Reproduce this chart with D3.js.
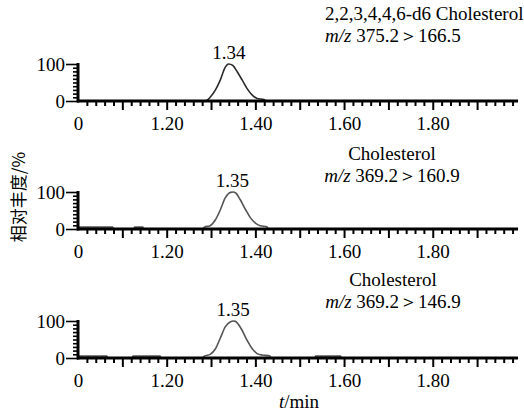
<!DOCTYPE html>
<html><head><meta charset="utf-8">
<script src="https://cdn.jsdelivr.net/npm/d3@7/dist/d3.min.js"></script>
<style>body{margin:0;background:#fff}</style>
</head><body>
<svg id="c" width="524" height="412"></svg>
<script>
// ---- data ----
const xTickValues = [1.0, 1.2, 1.4, 1.6, 1.8];
const xTickLabels = ["0", "1.20", "1.40", "1.60", "1.80"];
const yTickValues = [0, 100];
const peakTimes = [1.340, 1.348, 1.350];
const peakLabels = ["1.34", "1.35", "1.35"];
const compoundNames = ["2,2,3,4,4,6-d6 Cholesterol", "Cholesterol", "Cholesterol"];
const transitions = ["375.2＞166.5", "369.2＞160.9", "369.2＞146.9"];

const times1 = [1.00,1.285,1.291,1.298,1.310,1.321,1.331,1.340,1.349,1.359,1.370,1.381,1.393,1.404,1.419,1.425,1.99];
const int1   = [0,   0,    2,    10,   30,   57,   89,   100,  96,   79,   57,   34,   16,   7,    4,    0,    0];

const times2 = [1.00,1.078,1.080,1.126,1.128,1.146,1.148,1.280,1.285,1.298,1.310,1.321,1.332,1.344,1.350,1.355,1.366,1.378,1.389,1.400,1.411,1.426,1.430,1.99];
const int2   = [5,   5,    0,    0,    5,    5,    0,    0,    5,    9,    25,   52,   84,   99,   100,  98,   79,   52,   30,   16,   9,    6,    0,    0];

const times3 = [1.00,1.065,1.067,1.122,1.124,1.185,1.187,1.280,1.285,1.298,1.310,1.321,1.332,1.344,1.350,1.355,1.359,1.370,1.381,1.393,1.404,1.415,1.432,1.436,1.534,1.536,1.592,1.594,1.99];
const int3   = [5,   5,    0,    0,    5,    5,    0,    0,    5,    10,   25,   54,   84,   98,   100,  99,   95,   75,   48,   25,   12,   8,    6,    0,    0,    5,    5,    0,    0];

const seriesTimes = [times1, times2, times3];
const seriesInts = [int1, int2, int3];

// ---- layout ----
const FONT = "'Liberation Serif'";
const FS = 19;
const svg = d3.select("#c");
const x = d3.scaleLinear().domain([1.0, 1.99]).range([78, 517]);
const bases = [101, 229, 358];
const plotH = 37;
const lineColors = ["#2a2a2a", "#555", "#555"];
const nameLayout = [
  {anchor: "start", x: 325, y1: 20, y2: 42},
  {anchor: "middle", x: 392, y1: 160, y2: 182},
  {anchor: "middle", x: 393, y1: 286, y2: 308}
];

const majorX = d3.range(1.1, 1.95, 0.1);
const minorX = d3.range(1.02, 1.99, 0.02).filter(v => Math.abs(v*10 - Math.round(v*10)) > 1e-6);

bases.forEach((b, i) => {
  const y = d3.scaleLinear().domain([0, 100]).range([b, b - plotH]);
  const g = svg.append("g");

  const pts = seriesTimes[i].map((t, k) => [t, seriesInts[i][k]]);
  g.append("path")
    .datum(pts)
    .attr("fill", "none")
    .attr("stroke", lineColors[i])
    .attr("stroke-width", 1.6)
    .attr("d", d3.line().x(d => x(d[0])).y(d => y(d[1])).curve(d3.curveMonotoneX));

  const ax1 = g.append("g").attr("transform", `translate(0,${b})`)
    .call(d3.axisBottom(x).tickValues(minorX).tickSize(5).tickFormat(""));
  const ax2 = g.append("g").attr("transform", `translate(0,${b})`)
    .call(d3.axisBottom(x).tickValues(majorX).tickSize(9).tickFormat(""));
  const ax3 = g.append("g").attr("transform", `translate(0,${b})`)
    .call(d3.axisBottom(x).tickValues(xTickValues).tickSize(0).tickPadding(16)
      .tickFormat((d, k) => xTickLabels[k]));
  [ax1, ax2, ax3].forEach(a => {
    a.attr("font-family", null).attr("font-size", null);
    a.select(".domain").remove();
    a.selectAll("line").attr("stroke", "#000").attr("stroke-width", 2);
    a.selectAll("text").style("font-family", FONT).style("font-size", FS + "px").attr("fill", "#000");
  });
  g.append("line").attr("x1", x(1.0) - 1).attr("x2", 518).attr("y1", b).attr("y2", b)
    .attr("stroke", "#000").attr("stroke-width", 3);

  const ay1 = g.append("g").attr("transform", `translate(${x(1.0)},0)`)
    .call(d3.axisLeft(y).tickValues(d3.range(10, 100, 10)).tickSize(5).tickFormat(""));
  const ay2 = g.append("g").attr("transform", `translate(${x(1.0)},0)`)
    .call(d3.axisLeft(y).tickValues(yTickValues).tickSize(12).tickPadding(1).tickFormat(d3.format("d")));
  [ay1, ay2].forEach(a => {
    a.attr("font-family", null).attr("font-size", null);
    a.select(".domain").remove();
    a.selectAll("line").attr("stroke", "#000").attr("stroke-width", 1.6);
    a.selectAll("text").style("font-family", FONT).style("font-size", FS + "px").attr("fill", "#000");
  });
  g.append("line").attr("x1", x(1.0)).attr("x2", x(1.0)).attr("y1", b + 1.5).attr("y2", b - plotH - 1)
    .attr("stroke", "#000").attr("stroke-width", 3);

  g.append("text").attr("x", x(peakTimes[i])).attr("y", b - 42)
    .attr("text-anchor", "middle").style("font-size", FS + "px").style("font-family", FONT).text(peakLabels[i]);

  const nl = nameLayout[i];
  g.append("text").attr("x", nl.x).attr("y", nl.y1).attr("text-anchor", nl.anchor)
    .style("font-size", FS + "px").style("font-family", FONT).text(compoundNames[i]);
  const t2 = g.append("text").attr("x", nl.x).attr("y", nl.y2).attr("text-anchor", nl.anchor)
    .style("font-size", FS + "px").style("font-family", FONT);
  t2.append("tspan").attr("font-style", "italic").text("m/z");
  t2.append("tspan").text(" " + transitions[i]);
});

const xt = svg.append("text").attr("x", 299).attr("y", 408).attr("text-anchor", "middle")
  .style("font-size", FS + "px").style("font-family", FONT);
xt.append("tspan").attr("font-style", "italic").text("t");
xt.append("tspan").text("/min");

svg.append("text")
  .attr("transform", "translate(25,197) rotate(-90)")
  .attr("text-anchor", "middle")
  .style("font-size", "17px")
  .style("font-family", "'Noto Sans CJK SC'")
  .text("相对丰度/%");
</script>
</body></html>
